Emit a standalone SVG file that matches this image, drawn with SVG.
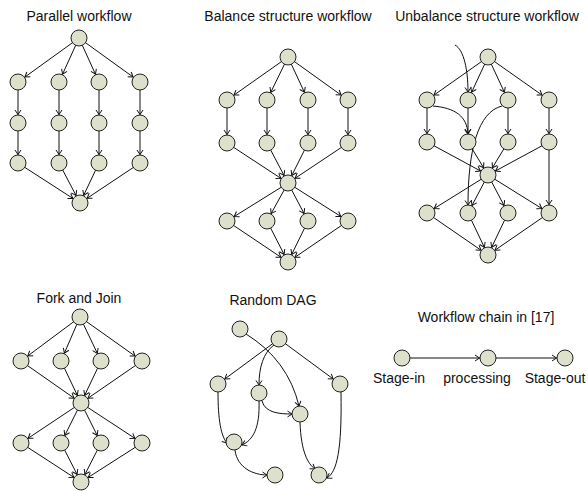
<svg xmlns="http://www.w3.org/2000/svg" width="588" height="491" viewBox="0 0 588 491">
<style>
text{font-family:"Liberation Sans",Arial,sans-serif;font-size:14px;fill:#111;text-anchor:middle}
circle{fill:#dde0cb;stroke:#222;stroke-width:1}
.e{stroke:#111;stroke-width:1;fill:none;marker-end:url(#a)}
.c{stroke:#111;stroke-width:1;fill:none;marker-end:url(#b)}
</style>
<defs>
<marker id="a" markerUnits="userSpaceOnUse" orient="auto" refX="0" refY="0" markerWidth="1" markerHeight="1" style="overflow:visible"><path d="M-13,-3 L-8.5,0 L-13,3" fill="none" stroke="#111" stroke-width="1"/></marker>
<marker id="b" markerUnits="userSpaceOnUse" orient="auto" refX="0" refY="0" markerWidth="1" markerHeight="1" style="overflow:visible"><path d="M-4.5,-3 L0,0 L-4.5,3" fill="none" stroke="#111" stroke-width="1"/></marker>
</defs>
<g id="titles">
<text x="79" y="21">Parallel workflow</text>
<text x="288" y="21">Balance structure workflow</text>
<text x="487" y="21">Unbalance structure workflow</text>
<text x="79" y="303">Fork and Join</text>
<text x="273" y="305">Random DAG</text>
<text x="486" y="322">Workflow chain in [17]</text>
<text x="399" y="383">Stage-in</text>
<text x="477" y="383">processing</text>
<text x="555" y="383">Stage-out</text>
</g>
<g id="connectors">
<!-- Parallel -->
<line class="e" x1="79" y1="38" x2="18" y2="82"/><line class="e" x1="79" y1="38" x2="59" y2="82"/><line class="e" x1="79" y1="38" x2="99" y2="82"/><line class="e" x1="79" y1="38" x2="140" y2="82"/>
<line class="e" x1="18" y1="82" x2="18" y2="123"/><line class="e" x1="59" y1="82" x2="59" y2="123"/><line class="e" x1="99" y1="82" x2="99" y2="123"/><line class="e" x1="140" y1="82" x2="140" y2="123"/>
<line class="e" x1="18" y1="123" x2="18" y2="163"/><line class="e" x1="59" y1="123" x2="59" y2="163"/><line class="e" x1="99" y1="123" x2="99" y2="163"/><line class="e" x1="140" y1="123" x2="140" y2="163"/>
<line class="e" x1="18" y1="163" x2="80" y2="203"/><line class="e" x1="59" y1="163" x2="80" y2="203"/><line class="e" x1="99" y1="163" x2="80" y2="203"/><line class="e" x1="140" y1="163" x2="80" y2="203"/>
<!-- Balance -->
<line class="e" x1="288" y1="57" x2="227" y2="100"/><line class="e" x1="288" y1="57" x2="267" y2="100"/><line class="e" x1="288" y1="57" x2="308" y2="100"/><line class="e" x1="288" y1="57" x2="348" y2="100"/>
<line class="e" x1="227" y1="100" x2="227" y2="143"/><line class="e" x1="267" y1="100" x2="267" y2="143"/><line class="e" x1="308" y1="100" x2="308" y2="143"/><line class="e" x1="348" y1="100" x2="348" y2="143"/>
<line class="e" x1="227" y1="143" x2="288" y2="183"/><line class="e" x1="267" y1="143" x2="288" y2="183"/><line class="e" x1="308" y1="143" x2="288" y2="183"/><line class="e" x1="348" y1="143" x2="288" y2="183"/>
<line class="e" x1="288" y1="183" x2="227" y2="221"/><line class="e" x1="288" y1="183" x2="267" y2="221"/><line class="e" x1="288" y1="183" x2="308" y2="221"/><line class="e" x1="288" y1="183" x2="348" y2="221"/>
<line class="e" x1="227" y1="221" x2="288" y2="262"/><line class="e" x1="267" y1="221" x2="288" y2="262"/><line class="e" x1="308" y1="221" x2="288" y2="262"/><line class="e" x1="348" y1="221" x2="288" y2="262"/>
<!-- Unbalance -->
<line class="e" x1="488" y1="57" x2="427" y2="100"/><line class="e" x1="488" y1="57" x2="468" y2="100"/><line class="e" x1="488" y1="57" x2="508" y2="100"/><line class="e" x1="488" y1="57" x2="549" y2="100"/>
<line class="e" x1="427" y1="100" x2="427" y2="142"/><line class="e" x1="468" y1="100" x2="468" y2="142"/><line class="e" x1="508" y1="100" x2="508" y2="142"/><line class="e" x1="549" y1="100" x2="549" y2="142"/>
<line class="e" x1="427" y1="142" x2="488" y2="175"/><line class="e" x1="468" y1="142" x2="488" y2="175"/><line class="e" x1="508" y1="142" x2="488" y2="175"/><line class="e" x1="549" y1="142" x2="488" y2="175"/>
<line class="e" x1="549" y1="142" x2="549" y2="213"/>
<line class="e" x1="488" y1="175" x2="427" y2="213"/><line class="e" x1="488" y1="175" x2="468" y2="213"/><line class="e" x1="488" y1="175" x2="508" y2="213"/><line class="e" x1="488" y1="175" x2="549" y2="213"/>
<line class="e" x1="427" y1="213" x2="488" y2="255"/><line class="e" x1="468" y1="213" x2="488" y2="255"/><line class="e" x1="508" y1="213" x2="488" y2="255"/><line class="e" x1="549" y1="213" x2="488" y2="255"/>
<path class="c" d="M455,45 C464,50 468,70 468,92"/>
<path class="c" d="M433,106 C455,108 467,116 468,134"/>
<path class="c" d="M502,106 C478,112 468,150 468,205"/>
<!-- Fork and Join -->
<line class="e" x1="80" y1="317" x2="21" y2="361"/><line class="e" x1="80" y1="317" x2="61" y2="361"/><line class="e" x1="80" y1="317" x2="101" y2="361"/><line class="e" x1="80" y1="317" x2="142" y2="361"/>
<line class="e" x1="21" y1="361" x2="81" y2="403"/><line class="e" x1="61" y1="361" x2="81" y2="403"/><line class="e" x1="101" y1="361" x2="81" y2="403"/><line class="e" x1="142" y1="361" x2="81" y2="403"/>
<line class="e" x1="81" y1="403" x2="21" y2="443"/><line class="e" x1="81" y1="403" x2="61" y2="443"/><line class="e" x1="81" y1="403" x2="101" y2="443"/><line class="e" x1="81" y1="403" x2="142" y2="443"/>
<line class="e" x1="21" y1="443" x2="81" y2="482"/><line class="e" x1="61" y1="443" x2="81" y2="482"/><line class="e" x1="101" y1="443" x2="81" y2="482"/><line class="e" x1="142" y1="443" x2="81" y2="482"/>
<!-- Random DAG -->
<path class="c" d="M246,334 Q288,360 299,406"/>
<line class="e" x1="279" y1="339" x2="218" y2="384"/>
<line class="e" x1="279" y1="339" x2="340" y2="384"/>
<path class="c" d="M274,345 C263,353 259,368 259,385"/>
<path class="c" d="M262,401 C265,413 280,414 292,414"/>
<path class="c" d="M259,401 C260,428 253,440 242,445"/>
<path class="c" d="M218,392 C218,420 221,436 227,443"/>
<path class="c" d="M235,450 C237,468 254,475 267,475"/>
<path class="c" d="M300,422 C301,452 308,464 315,469"/>
<path class="c" d="M341,392 C342,450 337,472 327,478"/>
<!-- Chain -->
<line class="e" x1="402" y1="358" x2="488" y2="358"/>
<line class="e" x1="488" y1="358" x2="565" y2="358"/>
</g>
<g id="parallel">
<g id="p0"><circle cx="79" cy="38" r="8"/></g>
<g id="p11"><circle cx="18" cy="82" r="8"/></g><g id="p12"><circle cx="59" cy="82" r="8"/></g><g id="p13"><circle cx="99" cy="82" r="8"/></g><g id="p14"><circle cx="140" cy="82" r="8"/></g>
<g id="p21"><circle cx="18" cy="123" r="8"/></g><g id="p22"><circle cx="59" cy="123" r="8"/></g><g id="p23"><circle cx="99" cy="123" r="8"/></g><g id="p24"><circle cx="140" cy="123" r="8"/></g>
<g id="p31"><circle cx="18" cy="163" r="8"/></g><g id="p32"><circle cx="59" cy="163" r="8"/></g><g id="p33"><circle cx="99" cy="163" r="8"/></g><g id="p34"><circle cx="140" cy="163" r="8"/></g>
<g id="p4"><circle cx="80" cy="203" r="8"/></g>
</g>
<g id="balance">
<g id="b0"><circle cx="288" cy="57" r="8"/></g>
<g id="b11"><circle cx="227" cy="100" r="8"/></g><g id="b12"><circle cx="267" cy="100" r="8"/></g><g id="b13"><circle cx="308" cy="100" r="8"/></g><g id="b14"><circle cx="348" cy="100" r="8"/></g>
<g id="b21"><circle cx="227" cy="143" r="8"/></g><g id="b22"><circle cx="267" cy="143" r="8"/></g><g id="b23"><circle cx="308" cy="143" r="8"/></g><g id="b24"><circle cx="348" cy="143" r="8"/></g>
<g id="b3"><circle cx="288" cy="183" r="8"/></g>
<g id="b41"><circle cx="227" cy="221" r="8"/></g><g id="b42"><circle cx="267" cy="221" r="8"/></g><g id="b43"><circle cx="308" cy="221" r="8"/></g><g id="b44"><circle cx="348" cy="221" r="8"/></g>
<g id="b5"><circle cx="288" cy="262" r="8"/></g>
</g>
<g id="unbalance">
<g id="u0"><circle cx="488" cy="57" r="8"/></g>
<g id="u11"><circle cx="427" cy="100" r="8"/></g><g id="u12"><circle cx="468" cy="100" r="8"/></g><g id="u13"><circle cx="508" cy="100" r="8"/></g><g id="u14"><circle cx="549" cy="100" r="8"/></g>
<g id="u21"><circle cx="427" cy="142" r="8"/></g><g id="u22"><circle cx="468" cy="142" r="8"/></g><g id="u23"><circle cx="508" cy="142" r="8"/></g><g id="u24"><circle cx="549" cy="142" r="8"/></g>
<g id="u3"><circle cx="488" cy="175" r="8"/></g>
<g id="u41"><circle cx="427" cy="213" r="8"/></g><g id="u42"><circle cx="468" cy="213" r="8"/></g><g id="u43"><circle cx="508" cy="213" r="8"/></g><g id="u44"><circle cx="549" cy="213" r="8"/></g>
<g id="u5"><circle cx="488" cy="255" r="8"/></g>
</g>
<g id="fork">
<g id="f0"><circle cx="80" cy="317" r="8"/></g>
<g id="f11"><circle cx="21" cy="361" r="8"/></g><g id="f12"><circle cx="61" cy="361" r="8"/></g><g id="f13"><circle cx="101" cy="361" r="8"/></g><g id="f14"><circle cx="142" cy="361" r="8"/></g>
<g id="f2"><circle cx="81" cy="403" r="8"/></g>
<g id="f31"><circle cx="21" cy="443" r="8"/></g><g id="f32"><circle cx="61" cy="443" r="8"/></g><g id="f33"><circle cx="101" cy="443" r="8"/></g><g id="f34"><circle cx="142" cy="443" r="8"/></g>
<g id="f4"><circle cx="81" cy="482" r="8"/></g>
</g>
<g id="random">
<g id="rA"><circle cx="240" cy="329" r="8"/></g>
<g id="rB"><circle cx="279" cy="339" r="8"/></g>
<g id="rC"><circle cx="218" cy="384" r="8"/></g>
<g id="rD"><circle cx="259" cy="393" r="8"/></g>
<g id="rE"><circle cx="340" cy="384" r="8"/></g>
<g id="rF"><circle cx="300" cy="414" r="8"/></g>
<g id="rG"><circle cx="234" cy="442" r="8"/></g>
<g id="rH"><circle cx="275" cy="475" r="8"/></g>
<g id="rI"><circle cx="319" cy="475" r="8"/></g>
</g>
<g id="chain">
<g id="c1"><circle cx="402" cy="358" r="8"/></g>
<g id="c2"><circle cx="488" cy="358" r="8"/></g>
<g id="c3"><circle cx="565" cy="358" r="8"/></g>
</g>
</svg>
